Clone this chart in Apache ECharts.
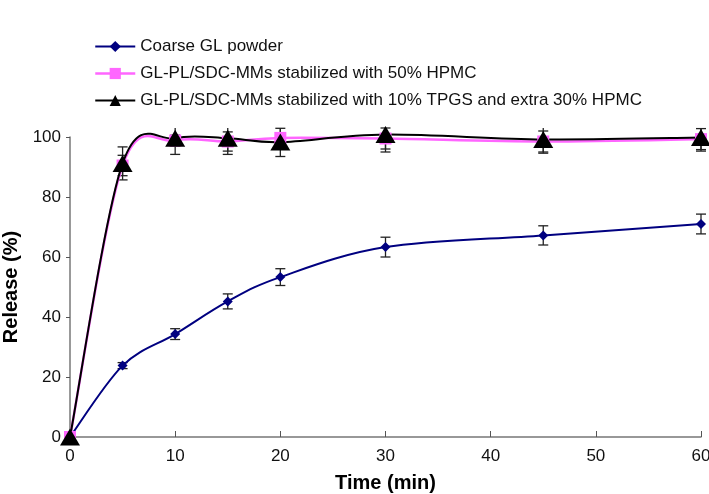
<!DOCTYPE html>
<html><head><meta charset="utf-8">
<script src="https://cdn.jsdelivr.net/npm/echarts@6/dist/echarts.min.js"></script>
<style>html,body{margin:0;padding:0;background:#fff}#c{width:709px;height:494px}</style>
</head><body><div id="c"></div>
<script>
const times = [0, 5, 10, 15, 20, 30, 45, 60];
const coarse = [0, 23.8, 34.3, 45.2, 53.3, 63.3, 67.2, 71.0];
const coarseErr = [0, 1.0, 1.8, 2.5, 2.8, 3.3, 3.2, 3.3];
const hpmc = [0, 90.5, 98.8, 98.5, 99.7, 99.5, 98.5, 99.3];
const hpmcErr = [0, 3.4, 1.8, 3.2, 3.2, 3.5, 3.5, 3.5];
const tpgs = [0, 91.2, 99.6, 99.6, 98.3, 100.8, 99.2, 99.8];
const tpgsErr = [0, 5.5, 5.4, 5.4, 4.8, 5.8, 4.6, 4.5];
const names = ['Coarse GL powder', 'GL-PL/SDC-MMs stabilized with 50% HPMC', 'GL-PL/SDC-MMs stabilized with 10% TPGS and extra 30% HPMC'];
const colors = ['#000080', '#ff66ff', '#000000'];
const xTicks = [0, 10, 20, 30, 40, 50, 60];
const yTicks = [0, 20, 40, 60, 80, 100];
const plotTop = 103;

function pairs(v){ return times.map((t,i)=>[t, v[i]]); }
function errData(v, e){ return times.map((t,i)=>[t, v[i]-e[i], v[i]+e[i]]); }
function errSeries(v, e){
  return {
    type:'custom', silent:true, clip:false, z:1,
    data: errData(v,e),
    renderItem: function(params, api){
      const x = api.value(0);
      const hv = api.value(2);
      const lo = api.coord([x, api.value(1)]);
      const hi = api.coord([x, Math.min(hv, plotTop)]);
      const w = 5;
      const st = {stroke:'#222', lineWidth:1.3};
      const kids = [
        {type:'line', shape:{x1:lo[0],y1:lo[1],x2:hi[0],y2:hi[1]}, style:st},
        {type:'line', shape:{x1:lo[0]-w,y1:lo[1],x2:lo[0]+w,y2:lo[1]}, style:st}
      ];
      if (hv <= plotTop) kids.push({type:'line', shape:{x1:hi[0]-w,y1:hi[1],x2:hi[0]+w,y2:hi[1]}, style:st});
      return {type:'group', children:kids};
    }
  };
}
// Excel-like smoothed curve (cardinal spline) through the data points
function curveSeries(v, color, width, z){
  return {
    type:'custom', silent:true, clip:false, z:z,
    data:[[times[0], v[0]]],
    renderItem: function(params, api){
      const P = times.map((t,i)=>api.coord([t, v[i]]));
      let d = 'M' + P[0][0] + ' ' + P[0][1];
      for (let i = 0; i < P.length - 1; i++){
        const p0 = P[Math.max(i-1,0)], p1 = P[i], p2 = P[i+1], p3 = P[Math.min(i+2,P.length-1)];
        const c1 = [p1[0] + (p2[0]-p0[0])/6, p1[1] + (p2[1]-p0[1])/6];
        const c2 = [p2[0] - (p3[0]-p1[0])/6, p2[1] - (p3[1]-p1[1])/6];
        d += ' C' + c1[0] + ' ' + c1[1] + ' ' + c2[0] + ' ' + c2[1] + ' ' + p2[0] + ' ' + p2[1];
      }
      return {type:'path', shape:{pathData:d}, style:{fill:'none', stroke:color, lineWidth:width}};
    }
  };
}
const ch = echarts.init(document.getElementById('c'));
const font = '"Liberation Sans", Arial, sans-serif';
ch.setOption({
  animation:false,
  textStyle:{fontFamily:font},
  grid:{left:70, right:8, top:137, bottom:57, outerBoundsMode:'none', containLabel:false},
  legend:{
    orient:'vertical', left:89, top:33, itemGap:10, itemWidth:40, itemHeight:14,
    textStyle:{fontSize:17, color:'#111', fontFamily:font},
    data:[
      {name:names[0], lineStyle:{color:colors[0], width:2}},
      {name:names[1], lineStyle:{color:colors[1], width:2.5}},
      {name:names[2], lineStyle:{color:colors[2], width:2}}
    ]
  },
  xAxis:{
    type:'value', min:0, max:60, interval:10,
    name:'Time (min)', nameLocation:'middle', nameGap:36,
    nameTextStyle:{fontSize:20, fontWeight:'bold', color:'#000', fontFamily:font},
    axisLine:{lineStyle:{color:'#777', width:1.5}},
    axisTick:{inside:true, length:6, lineStyle:{color:'#555'}},
    axisLabel:{fontSize:17, color:'#111', margin:11},
    splitLine:{show:false}
  },
  yAxis:{
    type:'value', min:0, max:100, interval:20,
    name:'Release (%)', nameLocation:'middle', nameGap:48,
    nameTextStyle:{fontSize:20, fontWeight:'bold', color:'#000', fontFamily:font},
    axisLine:{show:true, lineStyle:{color:'#777', width:1.5}},
    axisTick:{show:true, length:4, lineStyle:{color:'#555'}},
    axisLabel:{fontSize:17, color:'#111', margin:9},
    splitLine:{show:false}
  },
  series:[
    {name:names[0], type:'line', data:pairs(coarse), clip:false, z:6,
     symbol:'diamond', symbolSize:10, lineStyle:{color:colors[0], width:0},
     itemStyle:{color:colors[0]}},
    {name:names[1], type:'line', data:pairs(hpmc), clip:false, z:6,
     symbol:'rect', symbolSize:12, lineStyle:{color:colors[1], width:0},
     itemStyle:{color:colors[1]}},
    {name:names[2], type:'line', data:pairs(tpgs), clip:false, z:7,
     symbol:'triangle', symbolSize:[20,17], lineStyle:{color:colors[2], width:0},
     itemStyle:{color:colors[2]}},
    errSeries(coarse, coarseErr),
    errSeries(hpmc, hpmcErr),
    errSeries(tpgs, tpgsErr),
    curveSeries(coarse, colors[0], 2, 2),
    curveSeries(hpmc, colors[1], 2.5, 2),
    curveSeries(tpgs, colors[2], 2, 3)
  ]
});
</script></body></html>
